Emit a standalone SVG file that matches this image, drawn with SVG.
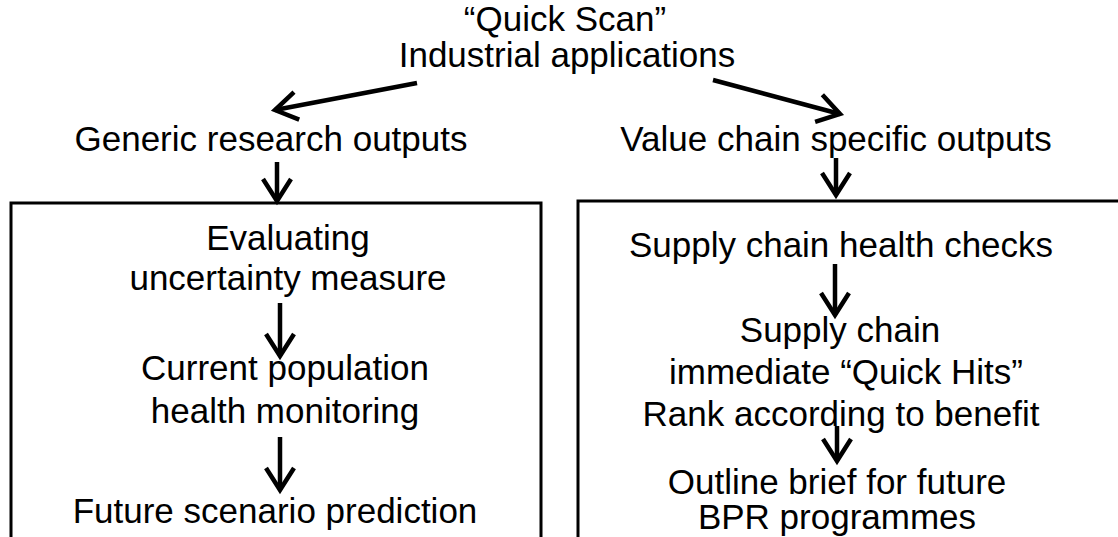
<svg xmlns="http://www.w3.org/2000/svg" width="1118" height="537" viewBox="0 0 1118 537">
<style>
text{font-family:"Liberation Sans",Arial,sans-serif;font-size:35px;fill:#000;text-anchor:middle}
.conn{fill:none;stroke:#000;stroke-width:4.5;marker-end:url(#v)}
.box{fill:none;stroke:#000;stroke-width:3}
</style>
<defs>
<marker id="v" markerUnits="userSpaceOnUse" markerWidth="40" markerHeight="40" viewBox="-30 -20 40 40" refX="0" refY="0" orient="auto" overflow="visible">
<path d="M-22,-14 L0,0 L-22,14" fill="none" stroke="#000" stroke-width="4.5" stroke-linejoin="miter"/>
</marker>
</defs>
<rect width="1118" height="537" fill="#fff"/>
<g id="title">
<text x="565" y="31">“Quick Scan”</text>
<text x="567" y="67">Industrial applications</text>
</g>
<g id="generic">
<text x="271" y="151">Generic research outputs</text>
</g>
<g id="valuechain">
<text x="836" y="151">Value chain specific outputs</text>
</g>
<g id="leftbox">
<path class="box" d="M11,540 V203 H541 V540"/>
<text x="288" y="250">Evaluating</text>
<text x="288" y="290">uncertainty measure</text>
<text x="285" y="380">Current population</text>
<text x="285" y="423">health monitoring</text>
<text x="275" y="523">Future scenario prediction</text>
</g>
<g id="rightbox">
<path class="box" d="M578,540 V201 H1125"/>
<text x="841" y="257">Supply chain health checks</text>
<text x="840" y="342">Supply chain</text>
<text x="846" y="384">immediate “Quick Hits”</text>
<text x="841" y="426">Rank according to benefit</text>
<text x="837" y="494">Outline brief for future</text>
<text x="837" y="529">BPR programmes</text>
</g>
<g id="connectors">
<path class="conn" d="M417,83 L275,110"/>
<path class="conn" d="M713,80 L840,114"/>
<path class="conn" d="M277,162 V201"/>
<path class="conn" d="M836,158 V195"/>
<path class="conn" d="M280,303 V356"/>
<path class="conn" d="M280,437 V490"/>
<path class="conn" d="M835,264 V315"/>
<path class="conn" d="M837,426 V461"/>
</g>
</svg>
